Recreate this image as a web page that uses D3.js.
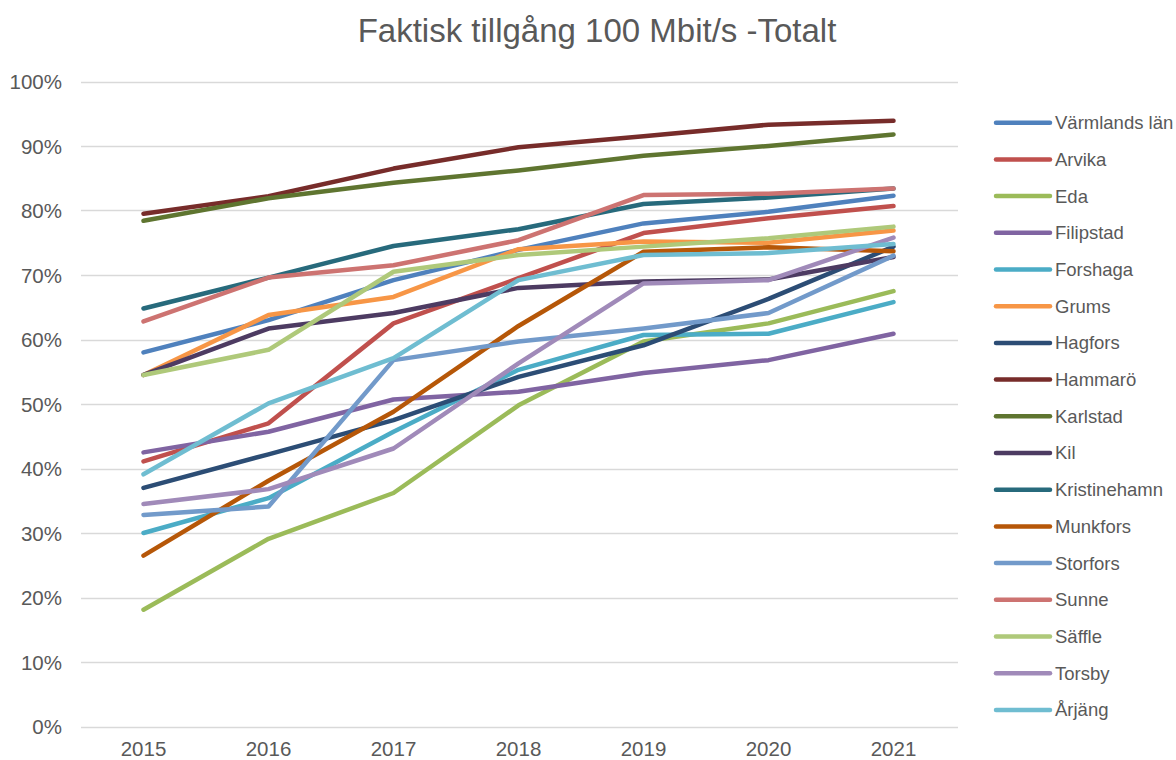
<!DOCTYPE html>
<html>
<head>
<meta charset="utf-8">
<script src="https://cdn.jsdelivr.net/npm/d3@7"></script>
<style>
  body { margin: 0; background: #fff; }
  svg text { font-family: "Liberation Sans", Arial, sans-serif; fill: #595959; }
</style>
</head>
<body>
<div id="plot"></div>
<script>
//Chart data
const years = [2015, 2016, 2017, 2018, 2019, 2020, 2021];
const names = ["Värmlands län", "Arvika", "Eda", "Filipstad", "Forshaga", "Grums", "Hagfors",
    "Hammarö", "Karlstad", "Kil", "Kristinehamn", "Munkfors", "Storfors", "Sunne", "Säffle", "Torsby", "Årjäng"];
const colors = ["#4F81BD", "#C0504D", "#9BBB59", "#8064A2", "#4BACC6", "#F79646", "#2C4D75",
    "#772C2A", "#5F7530", "#4D3B62", "#276A7C", "#B65708", "#729ACA", "#CD7371", "#AFC97A", "#A08AB9", "#6FBDD1"];
const values = [
    [58.0, 63.0, 69.2, 73.9, 78.0, 79.8, 82.3],
    [41.1, 47.0, 62.5, 69.5, 76.5, 78.8, 80.7],
    [18.1, 29.1, 36.2, 49.8, 59.7, 62.5, 67.5],
    [42.5, 45.7, 50.7, 51.9, 54.8, 56.8, 60.9],
    [30.0, 35.4, 45.7, 55.3, 60.7, 60.9, 65.8],
    [54.5, 63.8, 66.6, 74.0, 75.2, 75.0, 76.9],
    [37.0, 42.2, 47.5, 54.2, 59.1, 66.3, 74.4],
    [79.5, 82.2, 86.5, 89.8, 91.5, 93.3, 93.9],
    [78.4, 81.9, 84.3, 86.2, 88.5, 90.0, 91.8],
    [54.5, 61.7, 64.1, 68.0, 69.0, 69.3, 72.8],
    [64.8, 69.6, 74.5, 77.1, 81.0, 82.0, 83.4],
    [26.5, 38.1, 48.8, 62.1, 73.6, 74.3, 73.7],
    [32.8, 34.1, 56.8, 59.7, 61.7, 64.1, 73.0],
    [62.8, 69.6, 71.5, 75.4, 82.4, 82.6, 83.4],
    [54.5, 58.4, 70.5, 73.1, 74.4, 75.7, 77.5],
    [34.5, 36.8, 43.1, 56.3, 68.7, 69.2, 75.8],
    [39.1, 50.1, 57.1, 69.2, 73.1, 73.4, 74.8]
];
const yTicks = [0, 10, 20, 30, 40, 50, 60, 70, 80, 90, 100];

const w = 1176;
const h = 760;
const svg = d3.select("#plot")
    .append("svg")
    .attr("width", w)
    .attr("height", h);

//Plot area
const pLeft = 81, pRight = 956, pTop = 81.5, pBottom = 726.5;

const x = d3.scaleBand()
    .domain(years)
    .range([pLeft, pRight]);

const y = d3.scaleLinear()
    .domain([0, 100])
    .range([pBottom, pTop]);

//Title
svg.append("text")
    .attr("x", 597)
    .attr("y", 42)
    .attr("text-anchor", "middle")
    .style("font-size", "33px")
    .text("Faktisk tillgång 100 Mbit/s -Totalt");

//Gridlines
svg.append("g")
    .selectAll("line")
    .data(yTicks)
    .join("line")
    .attr("x1", pLeft)
    .attr("x2", pRight + 2)
    .attr("y1", d => Math.round(y(d)) + 0.5)
    .attr("y2", d => Math.round(y(d)) + 0.5)
    .attr("stroke", "#D9D9D9")
    .attr("stroke-width", 1.5);

//Y axis labels
const yAxis = d3.axisLeft(y)
    .tickValues(yTicks)
    .tickFormat(d => d + "%")
    .tickSize(0)
    .tickPadding(19);
const gy = svg.append("g")
    .attr("transform", "translate(" + pLeft + ",0)")
    .call(yAxis);
gy.select(".domain").remove();
gy.selectAll("text").style("font-size", "20.5px").attr("fill", "#595959").attr("dy", "0.35em");

//X axis labels
const xAxis = d3.axisBottom(x).tickSize(0).tickPadding(15);
const gx = svg.append("g")
    .attr("transform", "translate(0," + pBottom + ")")
    .call(xAxis);
gx.select(".domain").remove();
gx.selectAll("text").style("font-size", "20.5px").attr("fill", "#595959");

//Lines
const line = d3.line()
    .x((d, i) => x(years[i]) + x.bandwidth() / 2)
    .y(d => y(d));

svg.append("g")
    .selectAll("path")
    .data(values)
    .join("path")
    .attr("d", line)
    .attr("fill", "none")
    .attr("stroke", (d, i) => colors[i])
    .attr("stroke-width", 4.5)
    .attr("stroke-linecap", "round")
    .attr("stroke-linejoin", "round");

//Legend
const leg = svg.append("g")
    .selectAll("g")
    .data(names)
    .join("g")
    .attr("transform", (d, i) => "translate(996," + (122.7 + i * 36.7) + ")");
leg.append("line")
    .attr("x1", 0)
    .attr("x2", 54)
    .attr("stroke", (d, i) => colors[i])
    .attr("stroke-width", 4.5)
    .attr("stroke-linecap", "round");
leg.append("text")
    .attr("x", 59)
    .attr("dy", "0.35em")
    .style("font-size", "18.5px")
    .text(d => d);
</script>
</body>
</html>
